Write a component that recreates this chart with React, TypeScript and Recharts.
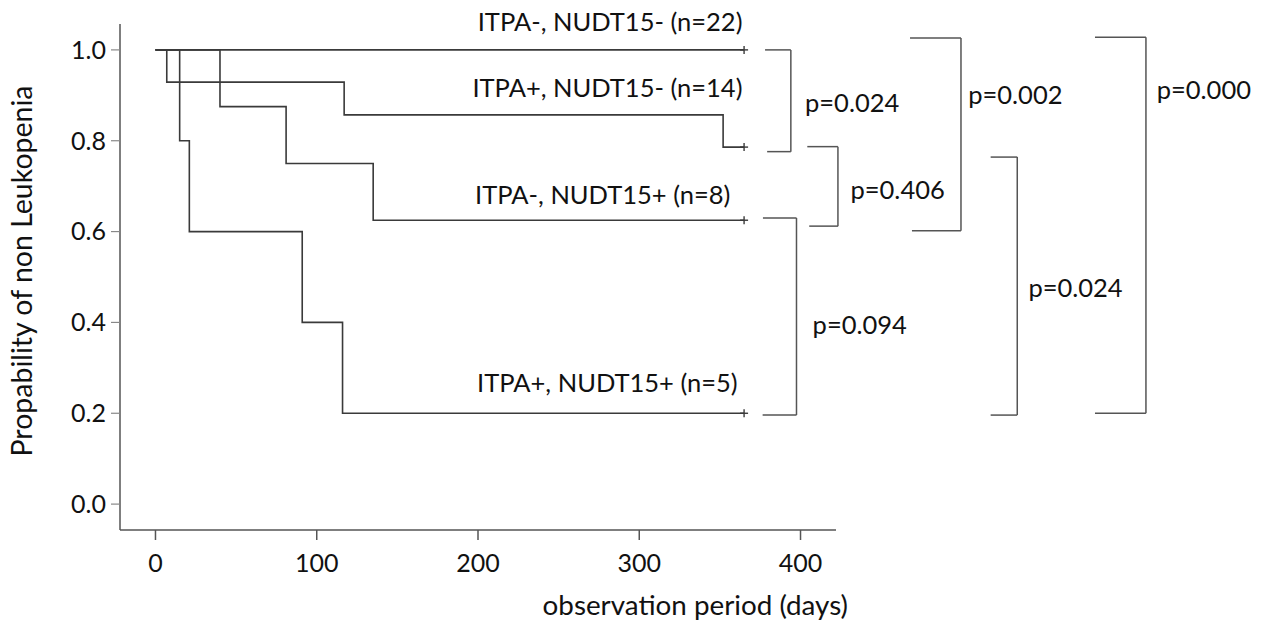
import React from 'react';
import { ComposedChart, Line, XAxis, YAxis, ReferenceLine, ReferenceDot } from 'recharts';

// ---------- data ----------
const xTicks = [0, 100, 200, 300, 400];
const yTicks = [0, 0.2, 0.4, 0.6, 0.8, 1.0];

const groupNames = [
  'ITPA-, NUDT15- (n=22)',
  'ITPA+, NUDT15- (n=14)',
  'ITPA-, NUDT15+ (n=8)',
  'ITPA+, NUDT15+ (n=5)',
];

const timesA = [0, 365];
const survA = [1, 1];
const timesB = [0, 7, 117, 352, 365];
const survB = [1, 0.929, 0.857, 0.786, 0.786];
const timesC = [0, 40, 81, 135, 365];
const survC = [1, 0.875, 0.75, 0.625, 0.625];
const timesD = [0, 15, 21, 91, 116, 365];
const survD = [1, 0.8, 0.6, 0.4, 0.2, 0.2];

const pValues = ['p=0.024', 'p=0.406', 'p=0.094', 'p=0.002', 'p=0.024', 'p=0.000'];

// ---------- annotation placement (data units) ----------
const groupLabelAnchors = [
  { x: 364, y: 1.062 },
  { x: 364, y: 0.916 },
  { x: 356.5, y: 0.681 },
  { x: 361, y: 0.2665 },
];

const bracketGeom = [
  { top: 1.0, bottom: 0.776, xlTop: 378, xlBot: 379.3, xr: 394, lx: 402.8, ly: 0.883 },
  { top: 0.787, bottom: 0.612, xlTop: 404.2, xlBot: 405.4, xr: 423.2, lx: 431, ly: 0.6916 },
  { top: 0.63, bottom: 0.196, xlTop: 376.7, xlBot: 376.5, xr: 397.5, lx: 407.5, ly: 0.394 },
  { top: 1.026, bottom: 0.602, xlTop: 467.9, xlBot: 469.1, xr: 499.5, lx: 504, ly: 0.901 },
  { top: 0.764, bottom: 0.196, xlTop: 517.9, xlBot: 517.9, xr: 534.4, lx: 541.3, ly: 0.475 },
  { top: 1.028, bottom: 0.2, xlTop: 582.6, xlBot: 582.6, xr: 614.2, lx: 620.9, ly: 0.912 },
];

const FONT = 'Lato, "Open Sans", sans-serif';
const FS = 25.5;
const TICK_FS = 25;
const LINE = '#3a3a3a';
const AXIS = '#555555';
const TEXT = '#111111';

const toSeries = (ts: number[], vs: number[]) => ts.map((t, i) => ({ t, v: vs[i] }));
const series = [
  toSeries(timesA, survA),
  toSeries(timesB, survB),
  toSeries(timesC, survC),
  toSeries(timesD, survD),
];

const censorDot = (n: number) => (props: any) => {
  const { cx, cy, index } = props;
  if (index !== n - 1 || cx == null || cy == null) return <g key={`d-${index}`} />;
  return (
    <g key={`d-${index}`}>
      <line x1={cx} y1={cy - 4} x2={cx} y2={cy + 4} stroke={LINE} strokeWidth={1.4} />
      <line x1={cx - 4} y1={cy} x2={cx + 4} y2={cy} stroke={LINE} strokeWidth={1.4} />
    </g>
  );
};

const textLabel = (value: string, anchor: 'start' | 'end') => (props: any) => {
  const vb = props.viewBox || {};
  return (
    <text
      x={vb.x}
      y={vb.y}
      dy="0.35em"
      textAnchor={anchor}
      fontFamily={FONT}
      fontSize={FS}
      fill={TEXT}
    >
      {value}
    </text>
  );
};

const yAxisLabel = (props: any) => {
  const vb = props.viewBox;
  const cx = vb.x + 14;
  const cy = vb.y + vb.height / 2 - 6;
  return (
    <text
      x={cx}
      y={cy}
      dy="0.35em"
      textAnchor="middle"
      transform={`rotate(-90 ${cx} ${cy})`}
      fontFamily={FONT}
      fontSize={28.5}
      fill={TEXT}
    >
      Propability of non Leukopenia
    </text>
  );
};

const xAxisLabel = (props: any) => {
  const vb = props.viewBox;
  return (
    <text
      x={vb.x + vb.width + 12}
      y={vb.y + 75}
      dy="0.35em"
      textAnchor="end"
      fontFamily={FONT}
      fontSize={27.8}
      fill={TEXT}
    >
      observation period (days)
    </text>
  );
};

export default function App() {
  return (
    <div style={{ position: 'absolute', left: 0, top: 0, width: 1264, height: 626, background: '#fff' }}>
      <ComposedChart width={1264} height={626} margin={{ top: 24, right: 428, bottom: 8, left: 8 }}>
        <XAxis
          type="number"
          dataKey="t"
          domain={[-22, 422]}
          allowDataOverflow
          ticks={xTicks}
          interval={0}
          height={88}
          tickSize={10}
          tickMargin={14}
          axisLine={{ stroke: AXIS, strokeWidth: 1.5 }}
          tickLine={{ stroke: AXIS, strokeWidth: 1.5 }}
          tick={{ fontFamily: FONT, fontSize: TICK_FS, fill: TEXT }}
          label={xAxisLabel}
        />
        <YAxis
          type="number"
          domain={[-0.057, 1.057]}
          allowDataOverflow
          ticks={yTicks}
          interval={0}
          width={112}
          tickSize={9}
          tickMargin={5}
          tickFormatter={(v: number) => v.toFixed(1)}
          axisLine={{ stroke: AXIS, strokeWidth: 1.5 }}
          tickLine={{ stroke: '#888', strokeWidth: 1.2 }}
          tick={{ fontFamily: FONT, fontSize: TICK_FS, fill: TEXT }}
          label={yAxisLabel}
        />
        {series.map((d, i) => (
          <Line
            key={`s${i}`}
            data={d}
            dataKey="v"
            name={groupNames[i]}
            type="stepAfter"
            stroke={LINE}
            strokeWidth={1.6}
            dot={censorDot(d.length)}
            activeDot={false}
            isAnimationActive={false}
          />
        ))}
        {groupNames.map((name, i) => (
          <ReferenceDot
            key={`gl${i}`}
            x={groupLabelAnchors[i].x}
            y={groupLabelAnchors[i].y}
            r={0}
            fill="none"
            stroke="none"
            ifOverflow="visible"
            label={textLabel(name, 'end')}
          />
        ))}
        {bracketGeom.map((b, i) => (
          <React.Fragment key={`b${i}`}>
            <ReferenceLine
              segment={[{ x: b.xlTop, y: b.top }, { x: b.xr, y: b.top }]}
              stroke={AXIS}
              strokeWidth={1.5}
              ifOverflow="visible"
            />
            <ReferenceLine
              segment={[{ x: b.xr, y: b.top }, { x: b.xr, y: b.bottom }]}
              stroke={AXIS}
              strokeWidth={1.5}
              ifOverflow="visible"
            />
            <ReferenceLine
              segment={[{ x: b.xlBot, y: b.bottom }, { x: b.xr, y: b.bottom }]}
              stroke={AXIS}
              strokeWidth={1.5}
              ifOverflow="visible"
            />
            <ReferenceDot
              x={b.lx}
              y={b.ly}
              r={0}
              fill="none"
              stroke="none"
              ifOverflow="visible"
              label={textLabel(pValues[i], 'start')}
            />
          </React.Fragment>
        ))}
      </ComposedChart>
    </div>
  );
}
